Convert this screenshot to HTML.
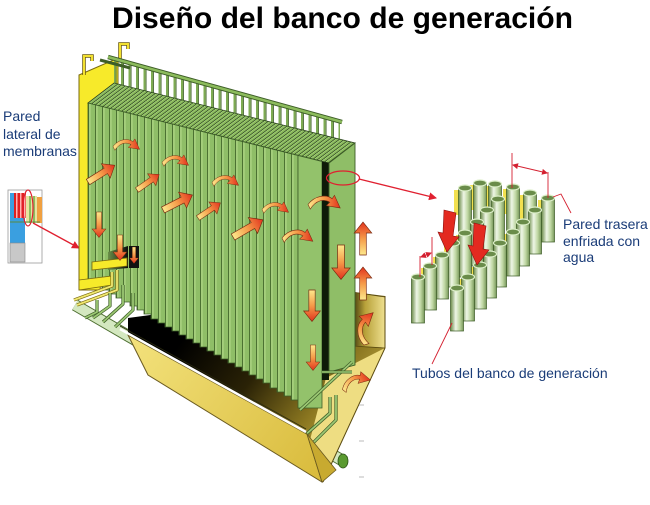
<!DOCTYPE html>
<html><head><meta charset="utf-8"><style>html,body{margin:0;padding:0;background:#fff}svg{display:block}</style></head>
<body>
<svg width="650" height="505" viewBox="0 0 650 505" xmlns="http://www.w3.org/2000/svg">
<defs>
 <linearGradient id="ag" x1="0" y1="0" x2="1" y2="0">
  <stop offset="0" stop-color="#fde98c"/><stop offset="0.5" stop-color="#f59a48"/><stop offset="1" stop-color="#e2321e"/>
 </linearGradient>
 <pattern id="pstripe" width="7" height="10" patternUnits="userSpaceOnUse" x="88">
  <rect width="7" height="10" fill="#8fbe67"/><rect x="0" width="1.1" height="10" fill="#4c7232"/><rect x="1.1" width="1.6" height="10" fill="#a9d27f"/>
 </pattern>
 <pattern id="pgrid" width="5" height="10" patternUnits="userSpaceOnUse" patternTransform="skewX(-53)">
  <rect width="5" height="10" fill="#2c461e"/><rect width="3.8" height="10" fill="#8cbc5e"/><rect width="1" height="10" fill="#b0d888"/>
 </pattern>
 <pattern id="priser" width="7.5" height="10" patternUnits="userSpaceOnUse">
  <rect x="1" width="2.2" height="10" fill="#7eac52"/><rect x="3.2" width="0.8" height="10" fill="#3e5e28"/>
 </pattern>
 <linearGradient id="dark" gradientUnits="userSpaceOnUse" x1="190" y1="330" x2="370" y2="465">
  <stop offset="0" stop-color="#000"/><stop offset="0.35" stop-color="#2a2206"/><stop offset="0.65" stop-color="#8a7620"/><stop offset="1" stop-color="#e6cf5a"/>
 </linearGradient>
 <linearGradient id="face" gradientUnits="userSpaceOnUse" x1="130" y1="335" x2="320" y2="480">
  <stop offset="0" stop-color="#f3e27c"/><stop offset="1" stop-color="#d9bb3c"/>
 </linearGradient>
 <linearGradient id="rwall" x1="0" y1="0" x2="1" y2="0">
  <stop offset="0" stop-color="#3a3208"/><stop offset="0.4" stop-color="#b8a23a"/><stop offset="1" stop-color="#efe090"/>
 </linearGradient>
 <linearGradient id="tg" x1="0" y1="0" x2="1" y2="0">
  <stop offset="0" stop-color="#6a8a48"/><stop offset="0.4" stop-color="#eef6e6"/><stop offset="0.7" stop-color="#c0d8a4"/><stop offset="1" stop-color="#78985a"/>
 </linearGradient>
 <linearGradient id="win" x1="0" y1="0" x2="1" y2="0">
  <stop offset="0" stop-color="#6a9048"/><stop offset="1" stop-color="#0a0a0a"/>
 </linearGradient>
 <path id="sa" d="M0,-3 L20,-3 L20,-8 L30,0 L20,8 L20,3 L0,3Z" fill="url(#ag)" stroke="#7a2a10" stroke-width="0.6"/>
 <path id="ca" d="M0,10 C6,2 16,1 21,5 L23,2 L28,13 L16,11 L19,8 C14,5 7,6 2,14 Z" fill="url(#ag)" stroke="#7a2a10" stroke-width="0.5"/>
 <marker id="mh" markerWidth="8" markerHeight="8" refX="7" refY="4" orient="auto" markerUnits="userSpaceOnUse"><path d="M0,0 L8,4 L0,8 Z" fill="#e02030"/></marker>
 <marker id="ms" markerWidth="6" markerHeight="6" refX="5" refY="3" orient="auto-start-reverse" markerUnits="userSpaceOnUse"><path d="M0,0 L6,3 L0,6 Z" fill="#d42030"/></marker>
</defs>

<text x="112" y="28" font-family="Liberation Sans, Arial, sans-serif" font-weight="bold" font-size="30" textLength="461" lengthAdjust="spacingAndGlyphs" fill="#000">Diseño del banco de generación</text>

<g font-family="Liberation Sans, Arial, sans-serif" font-size="14" fill="#1a3c78">
 <text x="3" y="121">Pared</text>
 <text x="3" y="139">lateral de</text>
 <text x="3" y="156">membranas</text>
</g>

<g>
 <rect x="8" y="190" width="34" height="73" fill="none" stroke="#999" stroke-width="0.8"/>
 <rect x="10" y="193" width="15" height="50" fill="#3a9fe0"/>
 <rect x="10" y="243" width="15" height="19" fill="#c8c8c8" stroke="#888" stroke-width="0.6"/>
 <rect x="14" y="193" width="12" height="25" fill="#e02020"/>
 <rect x="16" y="193" width="1.5" height="25" fill="#ffb0b0"/><rect x="20" y="193" width="1.5" height="25" fill="#ffb0b0"/><rect x="24" y="193" width="1.5" height="25" fill="#ffb0b0"/>
 <rect x="26" y="196" width="11" height="27" fill="#e8e4a0"/>
 <rect x="29" y="196" width="2" height="27" fill="#8cbc60"/><rect x="33" y="196" width="2" height="27" fill="#8cbc60"/>
 <rect x="37" y="197" width="5" height="26" fill="#f0a040"/>
 <line x1="10" y1="222" x2="40" y2="222" stroke="#5a8a40" stroke-width="1"/>
 <ellipse cx="28" cy="208" rx="5" ry="18" fill="none" stroke="#e02030" stroke-width="1.2"/>
 <line x1="33" y1="223" x2="79" y2="248" stroke="#e02030" stroke-width="1.3" marker-end="url(#mh)"/>
</g>

<line x1="75" y1="305" x2="345" y2="462" stroke="#4d6e30" stroke-width="12"/>
<line x1="75" y1="305" x2="345" y2="462" stroke="#d4e8c0" stroke-width="10"/>
<ellipse cx="343" cy="461" rx="5" ry="7" fill="#5a9a30" stroke="#2e5418" stroke-width="0.8"/>

<polygon points="128,318 337,290 385,296 385,348 323,482 307,434 128,336" fill="url(#dark)"/>
<polygon points="352,292 385,297 385,348 352,346" fill="url(#rwall)" stroke="#5a4a10" stroke-width="0.8"/>
<polygon points="326,378 385,348 323,482 310,440" fill="#eedd82"/>
<line x1="385" y1="296" x2="385" y2="348" stroke="#5a4a10" stroke-width="1"/>
<line x1="385" y1="348" x2="323" y2="482" stroke="#5a4a10" stroke-width="1"/>

<polygon points="79,75 118,58 118,110 100,290 79,290" fill="#f7ea2a" stroke="#7a6a10" stroke-width="1"/>
<polyline points="84,75 84,56 92,56 92,61" fill="none" stroke="#6a5a10" stroke-width="3.5"/>
<polyline points="84,75 84,56 92,56 92,61" fill="none" stroke="#f2e030" stroke-width="2"/>
<polyline points="120,62 120,44 128,44 128,49" fill="none" stroke="#6a5a10" stroke-width="3.5"/>
<polyline points="120,62 120,44 128,44 128,49" fill="none" stroke="#f2e030" stroke-width="2"/>

<polygon points="114,58 340,121 340,139 114,83" fill="url(#priser)"/>
<line x1="108" y1="57" x2="342" y2="122" stroke="#3e5e28" stroke-width="4.5"/>
<line x1="108" y1="57" x2="342" y2="122" stroke="#8cbc5c" stroke-width="2.5"/>
<line x1="100" y1="60" x2="130" y2="68" stroke="#3e5e28" stroke-width="3"/>

<polygon points="88,103 114,83 355,143 329,163" fill="url(#pgrid)" stroke="#2c461e" stroke-width="0.8"/>

<path d="M88,103 L298,155.5 L298,400 L291,400 L291,396 L284,396 L284,392 L277,392 L277,388 L270,388 L270,383 L263,383 L263,379 L256,379 L256,375 L249,375 L249,371 L242,371 L242,367 L235,367 L235,363 L228,363 L228,359 L221,359 L221,355 L214,355 L214,351 L207,351 L207,347 L200,347 L200,343 L193,343 L193,339 L186,339 L186,335 L179,335 L179,331 L172,331 L172,327 L165,327 L165,323 L158,323 L158,319 L151,319 L151,314 L144,314 L144,310 L137,310 L137,306 L130,306 L130,302 L123,302 L123,298 L116,298 L116,294 L109,294 L109,290 L102,290 L102,286 L95,286 L95,282 L88,282 Z" fill="url(#pstripe)" stroke="#3d5e28" stroke-width="0.8"/>
<polygon points="298,155.5 322,161.5 322,408 298,408" fill="#93c26b" stroke="#3d5e28" stroke-width="0.8"/>
<polygon points="322,161.5 329,163 329,380 322,380" fill="#0e1a08"/>
<polygon points="329,163 355,143 355,365 329,372" fill="#8fbe67" stroke="#3d5e28" stroke-width="0.9"/>

<polygon points="108,252 128,246 128,268 108,270" fill="url(#win)"/>
<rect x="129" y="246" width="10" height="22" fill="#111"/>
<polygon points="92,262 127,258 127,266 92,270" fill="#f7ea2a" stroke="#7a6a10" stroke-width="0.8"/>
<polygon points="79,280 112,276 112,285 79,290" fill="#f7ea2a" stroke="#7a6a10" stroke-width="0.8"/>

<g fill="none" stroke-linejoin="round">
 <polyline points="117,270 117,290 77,305" stroke="#7a6a10" stroke-width="3.2"/>
 <polyline points="117,270 117,290 77,305" stroke="#f0e870" stroke-width="1.8"/>
 <polyline points="112,272 112,286 74,300" stroke="#7a6a10" stroke-width="3.2"/>
 <polyline points="112,272 112,286 74,300" stroke="#f0e870" stroke-width="1.8"/>
 <polyline points="97,300 97,312 85,318" stroke="#3e5e28" stroke-width="3.2"/>
 <polyline points="97,300 97,312 85,318" stroke="#9cc874" stroke-width="1.8"/>
 <polyline points="110,293 110,306 93,318" stroke="#3e5e28" stroke-width="3.2"/>
 <polyline points="110,293 110,306 93,318" stroke="#9cc874" stroke-width="1.8"/>
 <polyline points="123,285 123,304 103,322" stroke="#3e5e28" stroke-width="3.2"/>
 <polyline points="123,285 123,304 103,322" stroke="#9cc874" stroke-width="1.8"/>
 <polyline points="133,293 133,310 115,327" stroke="#3e5e28" stroke-width="3.2"/>
 <polyline points="133,293 133,310 115,327" stroke="#9cc874" stroke-width="1.8"/>
 <polyline points="352,362 300,410" stroke="#3e5e28" stroke-width="3.2"/>
 <polyline points="352,362 300,410" stroke="#9cc874" stroke-width="1.8"/>
 <polyline points="330,397 330,413 303,437" stroke="#3e5e28" stroke-width="3.2"/>
 <polyline points="330,397 330,413 303,437" stroke="#9cc874" stroke-width="1.8"/>
 <polyline points="336,395 336,420 310,446" stroke="#3e5e28" stroke-width="3.2"/>
 <polyline points="336,395 336,420 310,446" stroke="#9cc874" stroke-width="1.8"/>
 <polyline points="322,372 352,372" stroke="#3e5e28" stroke-width="3"/>
 <polyline points="322,372 352,372" stroke="#9cc874" stroke-width="1.6"/>
</g>

<polygon points="128,335 307,434 322,482 148,375" fill="url(#face)" stroke="#6a5a20" stroke-width="1"/>
<polygon points="307,434 322,482 336,470" fill="#c8aa30" stroke="#6a5a20" stroke-width="0.8"/>
<line x1="120" y1="329" x2="306" y2="432" stroke="#fff" stroke-width="2.5"/>
<line x1="120" y1="326" x2="306" y2="429" stroke="#2a2a10" stroke-width="0.8"/>
<g stroke="#bbb" stroke-width="1"><line x1="359" y1="405" x2="364" y2="405"/><line x1="359" y1="441" x2="364" y2="441"/><line x1="359" y1="477" x2="364" y2="477"/></g>

<use href="#ca" transform="translate(113,137) scale(0.95)"/>
<use href="#ca" transform="translate(162,153) scale(0.95)"/>
<use href="#ca" transform="translate(212,173) scale(0.95)"/>
<use href="#ca" transform="translate(262,200) scale(0.95)"/>
<use href="#ca" transform="translate(282,227) scale(1.1)"/>
<use href="#ca" transform="translate(308,193) scale(1.15)"/>
<use href="#ca" transform="translate(338,380) rotate(-25) scale(1.05)"/>
<use href="#ca" transform="translate(352,343) rotate(-80) scale(1.2)"/>

<use href="#sa" transform="translate(88,182) rotate(-32) scale(1.05)"/>
<use href="#sa" transform="translate(137,190) rotate(-35) scale(0.9)"/>
<use href="#sa" transform="translate(163,210) rotate(-27) scale(1.1)"/>
<use href="#sa" transform="translate(198,218) rotate(-34) scale(0.9)"/>
<use href="#sa" transform="translate(233,237) rotate(-30) scale(1.15)"/>
<use href="#sa" transform="translate(99,212) rotate(90) scale(0.85)"/>
<use href="#sa" transform="translate(120,235) rotate(90) scale(0.85)"/>
<use href="#sa" transform="translate(134,247) rotate(90) scale(0.55)"/>
<use href="#sa" transform="translate(341,245) rotate(90) scale(1.15)"/>
<use href="#sa" transform="translate(312,290) rotate(90) scale(1.05)"/>
<use href="#sa" transform="translate(313,345) rotate(90) scale(0.85)"/>
<use href="#sa" transform="translate(363,255) rotate(-90) scale(1.1)"/>
<use href="#sa" transform="translate(363,300) rotate(-90) scale(1.1)"/>

<ellipse cx="343" cy="178" rx="16.5" ry="7" fill="none" stroke="#e02030" stroke-width="1.3"/>
<line x1="359" y1="179" x2="436" y2="198" stroke="#e02030" stroke-width="1.3" marker-end="url(#mh)"/>

<g fill="#f2e050">
 <rect x="454" y="190" width="6" height="25"/><rect x="470" y="185" width="6" height="25"/><rect x="486" y="186" width="6" height="25"/><rect x="503" y="189" width="6" height="25"/><rect x="520" y="195" width="6" height="25"/><rect x="538" y="200" width="6" height="25"/>
 <rect x="489" y="201" width="6" height="25"/><rect x="478" y="212" width="6" height="25"/><rect x="526" y="212" width="6" height="25"/><rect x="468" y="224" width="6" height="25"/><rect x="514" y="224" width="6" height="25"/><rect x="456" y="235" width="6" height="25"/><rect x="504" y="234" width="6" height="25"/><rect x="444" y="245" width="6" height="25"/><rect x="491" y="245" width="6" height="25"/><rect x="433" y="257" width="6" height="25"/><rect x="481" y="256" width="6" height="25"/><rect x="421" y="268" width="6" height="25"/><rect x="471" y="267" width="6" height="25"/><rect x="459" y="279" width="6" height="25"/>
</g>
<g stroke="#3b5a25" stroke-width="0.7">
 <g transform="translate(480,183)"><rect x="-6.5" y="0" width="13" height="44" fill="url(#tg)"/><ellipse cx="0" cy="0" rx="6.5" ry="3" fill="#6a8c4a" stroke="#dceec8" stroke-width="1.2"/></g>
 <g transform="translate(495,184)"><rect x="-6.5" y="0" width="13" height="44" fill="url(#tg)"/><ellipse cx="0" cy="0" rx="6.5" ry="3" fill="#6a8c4a" stroke="#dceec8" stroke-width="1.2"/></g>
 <g transform="translate(465,188)"><rect x="-6.5" y="0" width="13" height="44" fill="url(#tg)"/><ellipse cx="0" cy="0" rx="6.5" ry="3" fill="#6a8c4a" stroke="#dceec8" stroke-width="1.2"/></g>
 <g transform="translate(513,187)"><rect x="-6.5" y="0" width="13" height="44" fill="url(#tg)"/><ellipse cx="0" cy="0" rx="6.5" ry="3" fill="#6a8c4a" stroke="#dceec8" stroke-width="1.2"/></g>
 <g transform="translate(530,193)"><rect x="-6.5" y="0" width="13" height="44" fill="url(#tg)"/><ellipse cx="0" cy="0" rx="6.5" ry="3" fill="#6a8c4a" stroke="#dceec8" stroke-width="1.2"/></g>
 <g transform="translate(548,198)"><rect x="-6.5" y="0" width="13" height="44" fill="url(#tg)"/><ellipse cx="0" cy="0" rx="6.5" ry="3" fill="#6a8c4a" stroke="#dceec8" stroke-width="1.2"/></g>
 <g transform="translate(498,199)"><rect x="-6.5" y="0" width="13" height="44" fill="url(#tg)"/><ellipse cx="0" cy="0" rx="6.5" ry="3" fill="#6a8c4a" stroke="#dceec8" stroke-width="1.2"/></g>
 <g transform="translate(487,210)"><rect x="-6.5" y="0" width="13" height="44" fill="url(#tg)"/><ellipse cx="0" cy="0" rx="6.5" ry="3" fill="#6a8c4a" stroke="#dceec8" stroke-width="1.2"/></g>
 <g transform="translate(535,210)"><rect x="-6.5" y="0" width="13" height="44" fill="url(#tg)"/><ellipse cx="0" cy="0" rx="6.5" ry="3" fill="#6a8c4a" stroke="#dceec8" stroke-width="1.2"/></g>
 <g transform="translate(477,222)"><rect x="-6.5" y="0" width="13" height="44" fill="url(#tg)"/><ellipse cx="0" cy="0" rx="6.5" ry="3" fill="#6a8c4a" stroke="#dceec8" stroke-width="1.2"/></g>
 <g transform="translate(523,222)"><rect x="-6.5" y="0" width="13" height="44" fill="url(#tg)"/><ellipse cx="0" cy="0" rx="6.5" ry="3" fill="#6a8c4a" stroke="#dceec8" stroke-width="1.2"/></g>
 <g transform="translate(513,232)"><rect x="-6.5" y="0" width="13" height="44" fill="url(#tg)"/><ellipse cx="0" cy="0" rx="6.5" ry="3" fill="#6a8c4a" stroke="#dceec8" stroke-width="1.2"/></g>
 <g transform="translate(465,233)"><rect x="-6.5" y="0" width="13" height="44" fill="url(#tg)"/><ellipse cx="0" cy="0" rx="6.5" ry="3" fill="#6a8c4a" stroke="#dceec8" stroke-width="1.2"/></g>
 <g transform="translate(453,243)"><rect x="-6.5" y="0" width="13" height="44" fill="url(#tg)"/><ellipse cx="0" cy="0" rx="6.5" ry="3" fill="#6a8c4a" stroke="#dceec8" stroke-width="1.2"/></g>
 <g transform="translate(500,243)"><rect x="-6.5" y="0" width="13" height="44" fill="url(#tg)"/><ellipse cx="0" cy="0" rx="6.5" ry="3" fill="#6a8c4a" stroke="#dceec8" stroke-width="1.2"/></g>
 <g transform="translate(490,254)"><rect x="-6.5" y="0" width="13" height="44" fill="url(#tg)"/><ellipse cx="0" cy="0" rx="6.5" ry="3" fill="#6a8c4a" stroke="#dceec8" stroke-width="1.2"/></g>
 <g transform="translate(442,255)"><rect x="-6.5" y="0" width="13" height="44" fill="url(#tg)"/><ellipse cx="0" cy="0" rx="6.5" ry="3" fill="#6a8c4a" stroke="#dceec8" stroke-width="1.2"/></g>
 <g transform="translate(480,265)"><rect x="-6.5" y="0" width="13" height="44" fill="url(#tg)"/><ellipse cx="0" cy="0" rx="6.5" ry="3" fill="#6a8c4a" stroke="#dceec8" stroke-width="1.2"/></g>
 <g transform="translate(430,266)"><rect x="-6.5" y="0" width="13" height="44" fill="url(#tg)"/><ellipse cx="0" cy="0" rx="6.5" ry="3" fill="#6a8c4a" stroke="#dceec8" stroke-width="1.2"/></g>
 <g transform="translate(418,277)"><rect x="-6.5" y="0" width="13" height="46" fill="url(#tg)"/><ellipse cx="0" cy="0" rx="6.5" ry="3" fill="#6a8c4a" stroke="#dceec8" stroke-width="1.2"/></g>
 <g transform="translate(468,277)"><rect x="-6.5" y="0" width="13" height="44" fill="url(#tg)"/><ellipse cx="0" cy="0" rx="6.5" ry="3" fill="#6a8c4a" stroke="#dceec8" stroke-width="1.2"/></g>
 <g transform="translate(457,288)"><rect x="-6.5" y="0" width="13" height="43" fill="url(#tg)"/><ellipse cx="0" cy="0" rx="6.5" ry="3" fill="#6a8c4a" stroke="#dceec8" stroke-width="1.2"/></g>
</g>

<polygon points="444,210 456,213 453,236 459,237 447,252 438,232 443,233" fill="#e32a20" stroke="#8a1010" stroke-width="0.6"/>
<polygon points="474,223 486,226 483,249 489,250 477,265 468,245 473,246" fill="#e32a20" stroke="#8a1010" stroke-width="0.6"/>

<g stroke="#d42030" stroke-width="0.9" fill="none">
 <line x1="512" y1="153" x2="512" y2="188"/>
 <line x1="548" y1="172" x2="548" y2="198"/>
 <line x1="513" y1="165" x2="547" y2="173" marker-start="url(#ms)" marker-end="url(#ms)"/>
 <polyline points="553,197 561,194 571,213"/>
 <line x1="420" y1="256" x2="420" y2="277"/>
 <line x1="432" y1="237" x2="432" y2="265"/>
 <line x1="421" y1="257" x2="431" y2="253" marker-start="url(#ms)" marker-end="url(#ms)"/>
 <line x1="432" y1="364" x2="452" y2="323"/>
</g>

<g font-family="Liberation Sans, Arial, sans-serif" font-size="14" fill="#1a3c78">
 <text x="563" y="229">Pared trasera</text>
 <text x="563" y="246">enfriada con</text>
 <text x="563" y="262">agua</text>
 <text x="412" y="378">Tubos del banco de generación</text>
</g>
</svg>
</body></html>
